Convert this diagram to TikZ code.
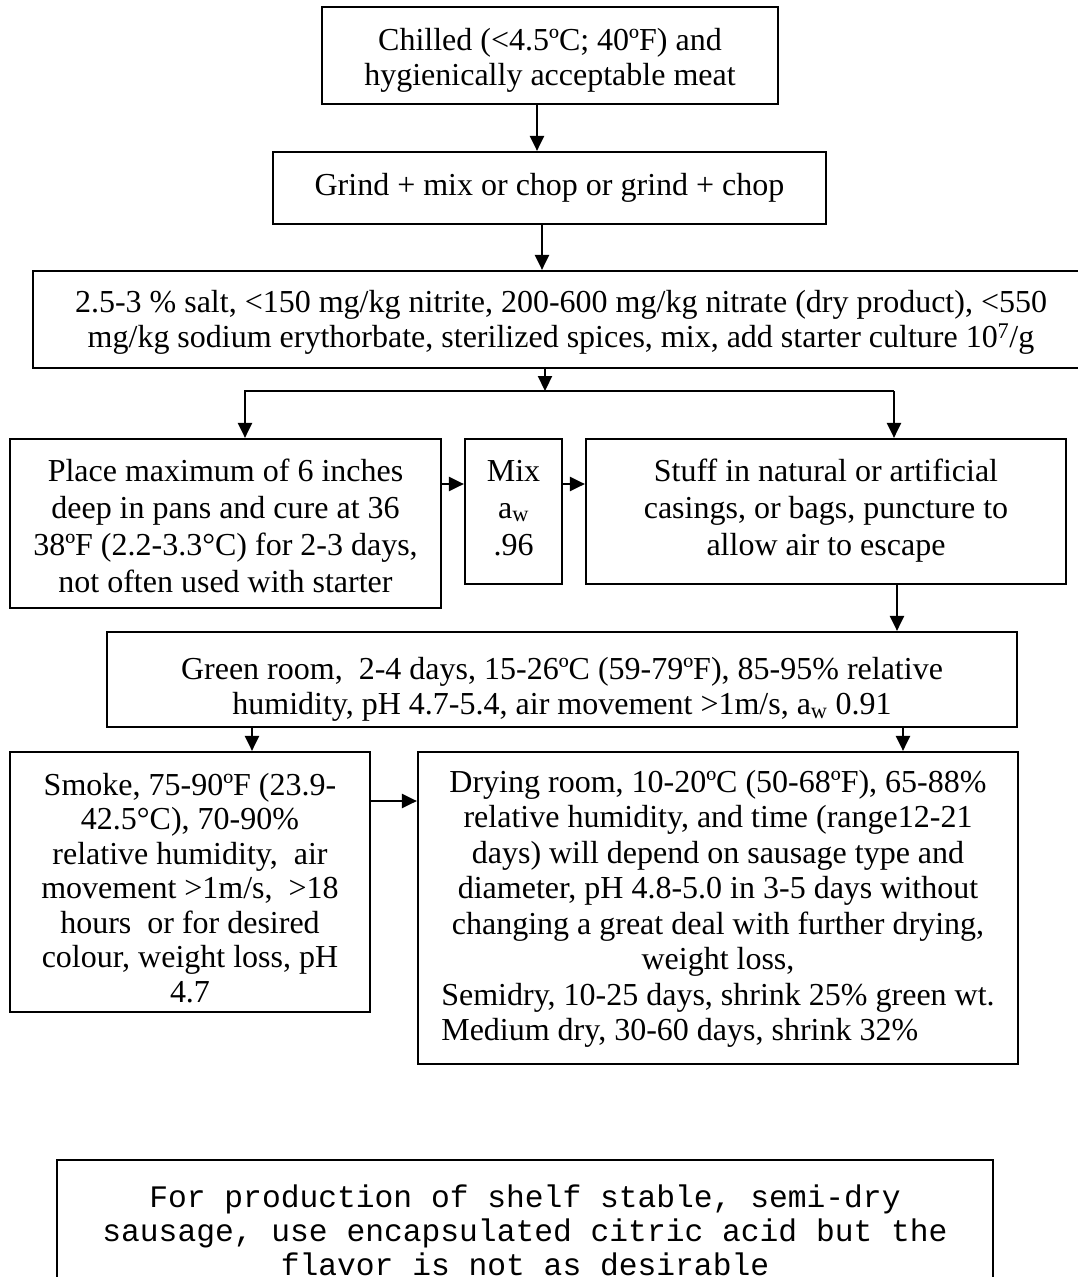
\documentclass[tikz,border=0pt]{standalone}
\usepackage{fontspec}
\setmainfont{Liberation Serif}
\setmonofont{Liberation Mono}
\usetikzlibrary{arrows.meta,fit}
\newlength\semiw
\begin{document}
\setbox0=\hbox{\fontsize{32}{35.5}\selectfont Semidry, 10-25 days, shrink 25\% green wt.}\global\semiw=\wd0
\begin{tikzpicture}[x=1pt,y=-1pt,
  boxshape/.style={draw, line width=2.2pt, inner sep=0pt},
  txt/.style={inner sep=0pt, align=center, anchor=north, font=\fontsize{32}{#1}\selectfont},
  txt/.default=35.5,
  monotxt/.style={inner sep=0pt, align=center, anchor=north, font=\fontsize{31.3}{34}\selectfont\ttfamily},
  arr/.style={line width=2.2pt, -{Triangle[length=15pt,width=14pt]}},
  ln/.style={line width=2.2pt}]
\fill[white] (0,0) rectangle (1078,1277);
\useasboundingbox (0,0) rectangle (1078,1277);
\clip (0,0) rectangle (1078,1277);

% boxes
\node[boxshape, fit={(322,7) (778,104)}] (b1) {};
\node[boxshape, fit={(273,152) (826,224)}] (b2) {};
\node[boxshape, fit={(33,271) (1089,368)}] (b3) {};
\node[boxshape, fit={(10,439) (441,608)}] (place) {};
\node[boxshape, fit={(465,439) (562,584)}] (mix) {};
\node[boxshape, fit={(586,439) (1066,584)}] (stuff) {};
\node[boxshape, fit={(107,632) (1017,727)}] (green) {};
\node[boxshape, fit={(10,752) (370,1012)}] (smoke) {};
\node[boxshape, fit={(418,752) (1018,1064)}] (drying) {};
\node[boxshape, fit={(57,1160) (993,1300)}] (note) {};

% texts
\node[txt] (t1) at (550,25) {\strut Chilled (<4.5ºC; 40ºF) and\\hygienically acceptable meat};
\node[txt] (t2) at (549.5,170) {\strut Grind + mix or chop or grind + chop};
\node[txt] (t3) at (561,287) {\strut 2.5-3 \% salt, <150 mg/kg nitrite, 200-600 mg/kg nitrate (dry product), <550\\mg/kg sodium erythorbate, sterilized spices, mix, add starter culture 10\textsuperscript{7}/g};
\node[txt=37] (tplace) at (225.5,455) {\strut Place maximum of 6 inches\\deep in pans and cure at 36\\38ºF (2.2-3.3°C) for 2-3 days,\\not often used with starter};
\node[txt=37] (tmix) at (513.5,455) {\strut Mix\\a\textsubscript{w}\\.96};
\node[txt=37] (tstuff) at (826,455) {\strut Stuff in natural or artificial\\casings, or bags, puncture to\\allow air to escape};
\node[txt] (tgreen) at (562,654) {\strut Green room,\ \ 2-4 days, 15-26ºC (59-79ºF), 85-95\% relative\\humidity, pH 4.7-5.4, air movement >1m/s, a\textsubscript{w} 0.91};
\node[txt=34.5] (tsmoke) at (190,771) {\strut Smoke, 75-90ºF (23.9-\\42.5°C), 70-90\%\\relative humidity,\ \ air\\movement >1m/s,\ \ >18\\hours\ \ or for desired\\colour, weight loss, pH\\4.7};
\node[txt] (tdrying) at (718,767) {\strut Drying room, 10-20ºC (50-68ºF), 65-88\%\\relative humidity, and time (range12-21\\days) will depend on sausage type and\\diameter, pH 4.8-5.0 in 3-5 days without\\changing a great deal with further drying,\\weight loss,\\Semidry, 10-25 days, shrink 25\% green wt.\\\makebox[\semiw][l]{Medium dry, 30-60 days, shrink 32\%}};
\node[monotxt] (tnote) at (525,1183) {\strut For production of shelf stable, semi-dry\\sausage, use encapsulated citric acid but the\\flavor is not as desirable};

% connector coordinates
\coordinate (ca) at (537,0);
\coordinate (cb) at (542,0);
\coordinate (jm) at (545,391);
\coordinate (jl) at (245,391);
\coordinate (jr) at (894,391);
\coordinate (r1) at (0,484);
\coordinate (cs) at (897,0);
\coordinate (cg1) at (252,0);
\coordinate (cg2) at (903,0);
\coordinate (r2) at (0,801);

% connectors
\draw[arr] (b1.south -| ca) -- (b2.north -| ca);
\draw[arr] (b2.south -| cb) -- (b3.north -| cb);
\draw[arr] (b3.south -| jm) -- (jm);
\draw[arr] (jr) -- (jl) -- (place.north -| jl);
\draw[arr] (jr) -- (stuff.north -| jr);
\draw[arr] (place.east |- r1) -- (mix.west |- r1);
\draw[arr] (mix.east |- r1) -- (stuff.west |- r1);
\draw[arr] (stuff.south -| cs) -- (green.north -| cs);
\draw[arr] (green.south -| cg1) -- (smoke.north -| cg1);
\draw[arr] (green.south -| cg2) -- (drying.north -| cg2);
\draw[arr] (smoke.east |- r2) -- (drying.west |- r2);
\end{tikzpicture}
\end{document}
